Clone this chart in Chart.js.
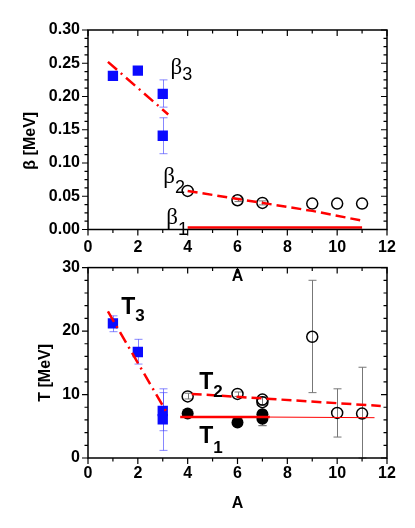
<!DOCTYPE html>
<html>
<head>
<meta charset="utf-8">
<script src="https://cdn.jsdelivr.net/npm/chart.js@4.4.1/dist/chart.umd.min.js"></script>
<style>
  html, body { margin: 0; padding: 0; background: #fff; }
  #wrap { position: relative; width: 415px; height: 528px; overflow: hidden; }
  canvas { position: absolute; left: 0; }
</style>
</head>
<body>
<div id="wrap">
  <canvas id="topChart" width="415" height="290" style="top:0"></canvas>
  <canvas id="botChart" width="415" height="278" style="top:250px"></canvas>
</div>
<script>
/* ---- data: upper panel (beta) ---- */
const beta3A  = [1, 2, 3, 3];
const beta3   = [0.231, 0.239, 0.204, 0.141];
const beta3Lo = [0.229, 0.234, 0.184, 0.114];
const beta3Hi = [0.233, 0.244, 0.225, 0.168];

const beta2A  = [4, 6, 7, 9, 10, 11];
const beta2   = [0.058, 0.044, 0.040, 0.039, 0.039, 0.039];
const beta2Lo = [0.058, 0.042, 0.037, 0.039, 0.039, 0.039];
const beta2Hi = [0.058, 0.047, 0.043, 0.039, 0.039, 0.039];

const beta3FitA = [0.8, 3.22];
const beta3Fit  = [0.252, 0.173];
const beta2FitA = [4, 6, 9, 11];
const beta2Fit  = [0.058, 0.046, 0.028, 0.0133];
const beta1FitA = [4, 11];
const beta1Fit  = [0.003, 0.003];

/* ---- data: lower panel (T) ---- */
const t3A  = [1, 2, 3, 3];
const t3   = [21.2, 16.7, 7.4, 6.1];
const t3Lo = [19.9, 14.8, 4.3, 1.2];
const t3Hi = [22.4, 18.7, 10.3, 10.9];

const t2A  = [4, 6, 7, 7, 9, 10, 11];
const t2   = [9.7, 10.1, 9.2, 8.8, 19.1, 7.1, 7.0];
const t2Lo = [9.3, 9.7, 8.3, 8.3, 10.3, 3.3, 0];
const t2Hi = [10.2, 10.4, 9.6, 9.6, 28.0, 10.9, 14.3];

const t1A  = [4, 6, 7, 7];
const t1   = [7.0, 5.6, 6.9, 6.2];
const t1Lo = [7.0, 5.6, 5.1, 5.1];
const t1Hi = [7.0, 5.6, 7.5, 7.5];

const t3FitA = [0.8, 3.2];
const t3Fit  = [23.1, 6.9];
const t2FitA = [4.16, 11.75];
const t2Fit  = [10.1, 8.2];
const t1FitA = [3.7, 7.3];
const t1Fit  = [6.45, 6.45];
const t1TailA = [7.3, 11.5];
const t1Tail  = [6.45, 6.35];

/* tick labels */
const xTicks = [0, 2, 4, 6, 8, 10, 12];
const betaTicks = [0.00, 0.05, 0.10, 0.15, 0.20, 0.25, 0.30];
const tTicks = [0, 10, 20, 30];

const FONT = '"Liberation Sans", Arial, sans-serif';
const RED = '#ff0000';
const BLUE = '#0a0aff';

function pts(xs, ys) { return xs.map((x, i) => ({ x: x, y: ys[i] })); }

/* error bars, drawn under the markers */
const errorBars = {
  id: 'errorBars',
  beforeDatasetsDraw(chart) {
    const ctx = chart.ctx, xs = chart.scales.x, ys = chart.scales.y;
    chart.data.datasets.forEach(ds => {
      if (!ds.errLo) return;
      ctx.save();
      ctx.strokeStyle = ds.errColor;
      ctx.lineWidth = 1;
      ds.data.forEach((p, i) => {
        const lo = ds.errLo[i], hi = ds.errHi[i];
        if (lo === hi) return;
        const px = Math.round(xs.getPixelForValue(p.x)) + 0.5;
        const y1 = ys.getPixelForValue(lo), y2 = ys.getPixelForValue(hi);
        const w = 4;
        ctx.beginPath();
        ctx.moveTo(px, y1); ctx.lineTo(px, y2);
        ctx.moveTo(px - w, y1); ctx.lineTo(px + w, y1);
        ctx.moveTo(px - w, y2); ctx.lineTo(px + w, y2);
        ctx.stroke();
      });
      ctx.restore();
    });
  }
};

/* box, ticks (out on left/bottom, in on top/right), axis titles, curve labels */
const frame = {
  id: 'frame',
  afterDraw(chart, args, o) {
    const ctx = chart.ctx, a = chart.chartArea;
    const xs = chart.scales.x, ys = chart.scales.y;
    ctx.save();
    ctx.strokeStyle = '#000';
    ctx.lineWidth = 1.5;
    ctx.strokeRect(a.left, a.top, a.right - a.left, a.bottom - a.top);
    ctx.lineWidth = 1.2;
    ctx.beginPath();
    const nx = Math.round((xs.max - xs.min) / o.xMinor);
    const kx = Math.round(o.xMajor / o.xMinor);
    for (let i = 0; i <= nx; i++) {
      const px = xs.getPixelForValue(xs.min + i * o.xMinor);
      const len = i % kx === 0 ? 6 : 3.5;
      ctx.moveTo(px, a.bottom); ctx.lineTo(px, a.bottom + len);
      ctx.moveTo(px, a.top); ctx.lineTo(px, a.top + len);
    }
    const ny = Math.round((ys.max - ys.min) / o.yMinor);
    const ky = Math.round(o.yMajor / o.yMinor);
    for (let i = 0; i <= ny; i++) {
      const py = ys.getPixelForValue(ys.min + i * o.yMinor);
      const len = i % ky === 0 ? 6 : 3.5;
      ctx.moveTo(a.left - len, py); ctx.lineTo(a.left, py);
      ctx.moveTo(a.right - len, py); ctx.lineTo(a.right, py);
    }
    ctx.stroke();

    // axis titles
    ctx.fillStyle = '#000';
    ctx.font = 'bold 16px ' + FONT;
    ctx.textAlign = 'center';
    ctx.textBaseline = 'middle';
    ctx.fillText('A', (a.left + a.right) / 2, a.bottom + o.xTitleGap);
    ctx.save();
    ctx.translate(o.yTitleX, (a.top + a.bottom) / 2 + o.yTitleShift);
    ctx.rotate(-Math.PI / 2);
    ctx.fillText(o.yTitle, 0, 0);
    ctx.restore();

    // curve labels
    ctx.textAlign = 'left';
    ctx.textBaseline = 'alphabetic';
    o.labels.forEach(l => {
      const px = xs.getPixelForValue(l.x), py = ys.getPixelForValue(l.y);
      ctx.font = l.font;
      ctx.fillText(l.main, px, py);
      const w = ctx.measureText(l.main).width;
      ctx.font = l.subFont;
      ctx.fillText(l.sub, px + w + l.subDx, py + l.subDy);
    });
    ctx.restore();
  }
};

function scatterSet(xs, ys, style, lo, hi, errColor) {
  const ds = { data: pts(xs, ys), showLine: false, errLo: lo, errHi: hi, errColor: errColor };
  if (style === 'square') {
    Object.assign(ds, { pointStyle: 'rect', pointRadius: 7.3, backgroundColor: BLUE, borderColor: BLUE, borderWidth: 0 });
  } else if (style === 'open') {
    Object.assign(ds, { pointStyle: 'circle', pointRadius: 5.5, backgroundColor: 'rgba(255,255,255,0)', borderColor: '#000', borderWidth: 1.5 });
  } else {
    Object.assign(ds, { pointStyle: 'circle', pointRadius: 6, backgroundColor: '#000', borderColor: '#000', borderWidth: 0 });
  }
  return ds;
}

function fitSet(xs, ys, dash, width) {
  return { data: pts(xs, ys), showLine: true, borderColor: RED, borderWidth: width,
           borderDash: dash, pointRadius: 0, fill: false };
}

function axes(yMin, yMax, yStep, yFmt, yPad, xPad, xH) {
  const tickFont = { family: FONT, size: 16, weight: 'bold' };
  return {
    x: { type: 'linear', min: 0, max: 12,
         ticks: { stepSize: 2, padding: xPad, color: '#000', font: tickFont, maxRotation: 0 },
         grid: { display: false, drawTicks: false }, border: { display: false },
         afterFit: s => { s.height = xH; } },
    y: { type: 'linear', min: yMin, max: yMax,
         ticks: { stepSize: yStep, padding: yPad, color: '#000', font: tickFont, callback: yFmt },
         grid: { display: false, drawTicks: false }, border: { display: false },
         afterFit: s => { s.width = 88; } }
  };
}

const betaFont = '23px "Liberation Serif", serif';
const betaSub = '18px ' + FONT;
const tFont = 'bold 23px ' + FONT;
const tSub = 'bold 17px ' + FONT;

new Chart(document.getElementById('topChart'), {
  type: 'scatter',
  data: { datasets: [
    fitSet(beta1FitA, beta1Fit, [], 2.5),
    fitSet(beta3FitA, beta3Fit, [12, 5, 2, 5], 2.5),
    fitSet(beta2FitA, beta2Fit, [10, 5], 2.5),
    scatterSet(beta3A, beta3, 'square', beta3Lo, beta3Hi, 'rgba(70,70,255,0.65)'),
    scatterSet(beta2A, beta2, 'open', beta2Lo, beta2Hi, '#777')
  ] },
  options: {
    responsive: false, animation: false,
    layout: { padding: { top: 30, right: 28, left: 0, bottom: 0 } },
    scales: axes(0, 0.30, 0.05, v => v.toFixed(2), 8, 8, 60.5),
    plugins: {
      legend: { display: false }, tooltip: { enabled: false },
      frame: {
        xMinor: 1, xMajor: 2, yMinor: 0.0125, yMajor: 0.05,
        xTitleGap: 47, yTitle: 'β [MeV]', yTitleX: 31, yTitleShift: 11,
        labels: [
          { main: 'β', sub: '3', x: 3.31, y: 0.2338, font: betaFont, subFont: betaSub, subDx: 0, subDy: 6 },
          { main: 'β', sub: '2', x: 3.02, y: 0.0699, font: betaFont, subFont: betaSub, subDx: 0, subDy: 10 },
          { main: 'β', sub: '1', x: 3.14, y: 0.0083, font: betaFont, subFont: betaSub, subDx: 0, subDy: 11 }
        ]
      }
    }
  },
  plugins: [errorBars, frame]
});

new Chart(document.getElementById('botChart'), {
  type: 'scatter',
  data: { datasets: [
    fitSet(t1FitA, t1Fit, [], 2.5),
    fitSet(t1TailA, t1Tail, [], 1),
    fitSet(t3FitA, t3Fit, [12, 5, 2, 5], 2.5),
    fitSet(t2FitA, t2Fit, [10, 5], 2.5),
    scatterSet(t3A, t3, 'square', t3Lo, t3Hi, 'rgba(70,70,255,0.65)'),
    scatterSet(t2A, t2, 'open', t2Lo, t2Hi, '#777'),
    scatterSet(t1A, t1, 'filled', t1Lo, t1Hi, '#777')
  ] },
  options: {
    responsive: false, animation: false,
    layout: { padding: { top: 9, right: 28, left: 0, bottom: 0 } },
    scales: axes(0, 30, 10, v => String(v), 8, 6, 70),
    plugins: {
      legend: { display: false }, tooltip: { enabled: false },
      frame: {
        xMinor: 1, xMajor: 2, yMinor: 2, yMajor: 10,
        xTitleGap: 46, yTitle: 'T [MeV]', yTitleX: 46, yTitleShift: 10,
        labels: [
          { main: 'T', sub: '3', x: 1.33, y: 22.75, font: tFont, subFont: tSub, subDx: 0, subDy: 7 },
          { main: 'T', sub: '2', x: 4.46, y: 10.87, font: tFont, subFont: tSub, subDx: 0, subDy: 8 },
          { main: 'T', sub: '1', x: 4.46, y: 2.41, font: tFont, subFont: tSub, subDx: 0, subDy: 10 }
        ]
      }
    }
  },
  plugins: [errorBars, frame]
});
</script>
</body>
</html>
